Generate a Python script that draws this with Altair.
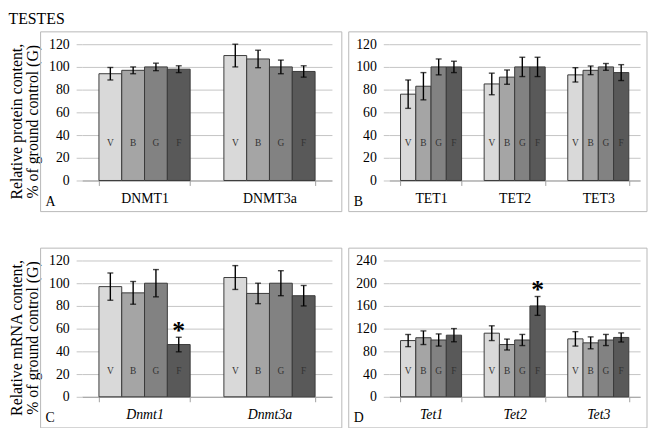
import altair as alt
import pandas as pd

SERIF = "Liberation Serif"

groups = ["V", "B", "G", "F"]
group_colors = ["#d9d9d9", "#a5a5a5", "#828282", "#595959"]

# Panel A - protein
a_genes = ["DNMT1", "DNMT3a"]
a_vals = [94, 97, 100, 98, 110, 107, 100, 96]
a_errs = [5.5, 3, 3.3, 3, 10, 7.7, 6, 5]
a_star = [0, 0, 0, 0, 0, 0, 0, 0]

# Panel B - protein
b_genes = ["TET1", "TET2", "TET3"]
b_vals = [76, 83, 100, 100, 85, 91, 100, 100, 93, 97, 100, 95]
b_errs = [12.5, 12, 7, 5, 9.5, 6.3, 8.5, 8.5, 6.3, 3.8, 3, 7]
b_star = [0] * 12

# Panel C - mRNA
c_genes = ["Dnmt1", "Dnmt3a"]
c_vals = [97, 91.5, 100, 46, 105, 91, 100, 89]
c_errs = [12, 10, 12, 6.4, 10.5, 9, 11, 9]
c_star = [0, 0, 0, 1, 0, 0, 0, 0]

# Panel D - mRNA
d_genes = ["Tet1", "Tet2", "Tet3"]
d_vals = [99, 104, 100, 108.5, 112, 92, 100, 160, 102, 95, 100, 104.5]
d_errs = [10.7, 12, 10.7, 11.6, 13, 9.6, 9.8, 16.6, 12.7, 10.5, 9.8, 8]
d_star = [0, 0, 0, 0, 0, 0, 0, 1, 0, 0, 0, 0]

H = 138
GRID = "#c4c4c4"


def panel(genes, vals, errs, stars, ymax, ystep, label_y, letter, width,
          box_left, box_right, ytitle=None, italic=False):
    rows = []
    for i, g in enumerate(genes):
        for j, grp in enumerate(groups):
            k = i * 4 + j
            rows.append(dict(gene=g, grp=grp, val=vals[k], lo=vals[k] - errs[k],
                             hi=vals[k] + errs[k], star=bool(stars[k]), ly=label_y))
    df = pd.DataFrame(rows)
    base = alt.Chart(df)

    xaxis = alt.Axis(title=None, labelAngle=0, labelFont=SERIF, labelFontSize=14,
                     labelColor="black", labelFontStyle="italic" if italic else "normal",
                     domainColor="#a0a0a0", tickColor="#a0a0a0", tickSize=5,
                     tickBand="extent", labelPadding=6, grid=False)
    xscale = alt.Scale(paddingInner=0.27, paddingOuter=0.135)
    x = alt.X("gene:N", sort=genes, axis=xaxis, scale=xscale)
    xo = alt.XOffset("grp:N", sort=groups, scale=alt.Scale(type="band", paddingInner=0, paddingOuter=0))

    yaxis_kw = dict(values=list(range(0, ymax + 1, ystep)), domain=False, tickSize=6,
                    tickColor=GRID, gridColor=GRID, labelFont=SERIF, labelFontSize=14,
                    labelColor="black", labelPadding=7, labelOverlap=False)
    if ytitle:
        yaxis_kw.update(title=ytitle, titleFont=SERIF, titleFontSize=16,
                        titleFontWeight="normal", titleColor="black", titleLineHeight=16,
                        titleX=-74, titleY=78, titleBaseline="top", titleAngle=270)
    else:
        yaxis_kw.update(title="")
    yscale = alt.Scale(domain=[0, ymax], nice=False)
    yaxis = alt.Axis(**yaxis_kw)

    def yq(field):
        return alt.Y(field, scale=yscale, axis=yaxis)

    bars = base.mark_bar(stroke="#3a3a3a", strokeWidth=1).encode(
        x=x, xOffset=xo, y=yq("val:Q"),
        color=alt.Color("grp:N", sort=groups,
                        scale=alt.Scale(domain=groups, range=group_colors), legend=None))
    rules = base.mark_rule(color="black", strokeWidth=1.4).encode(
        x=x, xOffset=xo, y=yq("lo:Q"), y2="hi:Q")
    cap_hi = base.mark_tick(color="black", size=6, thickness=1.4).encode(
        x=x, xOffset=xo, y=yq("hi:Q"))
    cap_lo = base.mark_tick(color="black", size=6, thickness=1.4).encode(
        x=x, xOffset=xo, y=yq("lo:Q"))
    labels = base.mark_text(font=SERIF, fontSize=9.5, color="#333333", baseline="middle").encode(
        x=x, xOffset=xo, y=yq("ly:Q"), text="grp:N")
    star = base.transform_filter("datum.star").mark_text(
        text="*", font=SERIF, fontSize=26, fontWeight="bold", color="black",
        baseline="alphabetic", dy=2).encode(x=x, xOffset=xo, y=yq("hi:Q"))

    one = pd.DataFrame({"k": [0]})
    box = alt.Chart(one).mark_rect(fillOpacity=0, stroke="#b8b8b8", strokeWidth=1).encode(
        x=alt.value(-box_left), x2=alt.value(width + box_right),
        y=alt.value(-12.5), y2=alt.value(H + 31.5))
    let = alt.Chart(one).mark_text(text=letter, font=SERIF, fontSize=14, color="black",
                                   align="left", baseline="middle").encode(
        x=alt.value(-box_left + 5), y=alt.value(H + 21.5))

    return alt.layer(bars, rules, cap_hi, cap_lo, labels, star, let, box).properties(
        width=width, height=H)


A = panel(a_genes, a_vals, a_errs, a_star, 120, 20, 33, "A", 253, 42, 10,
          ytitle=["Relative protein content,", "% of ground control (G)"])
B = panel(b_genes, b_vals, b_errs, b_star, 120, 20, 33, "B", 254, 41, 7)
C = panel(c_genes, c_vals, c_errs, c_star, 120, 20, 23, "C", 253, 42, 10,
          ytitle=["Relative mRNA content,", "% of ground control (G)"], italic=True)
D = panel(d_genes, d_vals, d_errs, d_star, 240, 40, 45, "D", 254, 41, 7, italic=True)

IND = dict(x="independent", y="independent", xOffset="independent")

row1 = alt.hconcat(A, B, spacing=5).resolve_scale(**IND)
row2 = alt.hconcat(C, D, spacing=5).resolve_scale(**IND)

chart = alt.vconcat(row1, row2, spacing=34).resolve_scale(**IND).properties(
    title=alt.TitleParams("TESTES", anchor="start", font=SERIF, fontSize=16,
                          fontWeight="normal", color="black", offset=4),
    padding=0,
).configure_view(stroke="transparent")

chart.save("out.html", embed_options={"renderer": "svg", "actions": False})
